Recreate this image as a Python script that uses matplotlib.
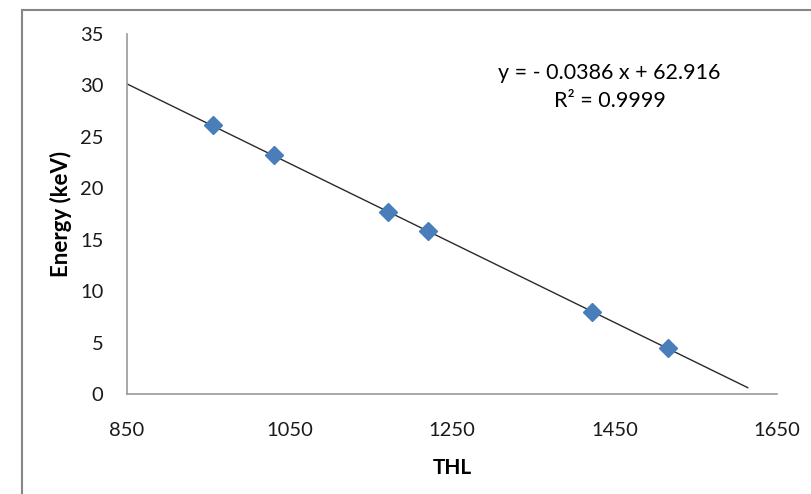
import numpy as np
import matplotlib.pyplot as plt
from matplotlib.patches import Rectangle

# dane
thl = [956, 1031, 1171, 1220, 1422, 1516]
energy = [26.1, 23.2, 17.7, 15.8, 8.0, 4.5]

slope = -0.0386
intercept = 62.916
r2 = 0.9999
trend_x = [850, 1614]

x_ticks = [850, 1050, 1250, 1450, 1650]
y_ticks = [0, 5, 10, 15, 20, 25, 30, 35]

plt.rcParams['font.family'] = ['Lato', 'DejaVu Sans']

fig = plt.figure(figsize=(8.12, 4.94), dpi=100)
ax = fig.add_axes([127 / 812, 1 - 394 / 494, 650 / 812, 360.5 / 494])

# ramka wykresu (ucięta z prawej i z dołu)
fig.patches.append(Rectangle((22 / 812, -0.1), 1.0, 1 - 10 / 494 + 0.1,
                             transform=fig.transFigure, fill=False,
                             edgecolor='#868686', linewidth=1.5))

tx = np.array(trend_x)
ax.plot(tx, slope * tx + intercept, color='#2a2a2a', linewidth=1.0, zorder=2)
ax.plot(thl, energy, linestyle='none', marker='D', markersize=9,
        color='#4A7EBB', markeredgecolor='#4A7EBB', zorder=3)

ax.set_xlim(850, 1650)
ax.set_ylim(0, 35)
ax.set_xticks(x_ticks)
ax.set_yticks(y_ticks)
ax.tick_params(length=0, labelsize=14.5, colors='#1a1a1a')
ax.tick_params(axis='x', pad=20)
ax.tick_params(axis='y', pad=17)

for side in ['top', 'right']:
    ax.spines[side].set_visible(False)
for side in ['left', 'bottom']:
    ax.spines[side].set_color('#9a9a9a')
    ax.spines[side].set_linewidth(1.2)

ax.set_xlabel('THL', fontsize=15, fontweight='bold', labelpad=14)
ax.set_ylabel('Energy (keV)', fontsize=16, fontweight='bold', labelpad=6)

ax.text(1444, 31.2, f'y = - {abs(slope)} x + {intercept}', fontsize=15.5, ha='center', va='center')
ax.text(1444, 28.45, f'R² = {r2}', fontsize=15.5, ha='center', va='center')

fig.savefig('out.png', dpi=100)
